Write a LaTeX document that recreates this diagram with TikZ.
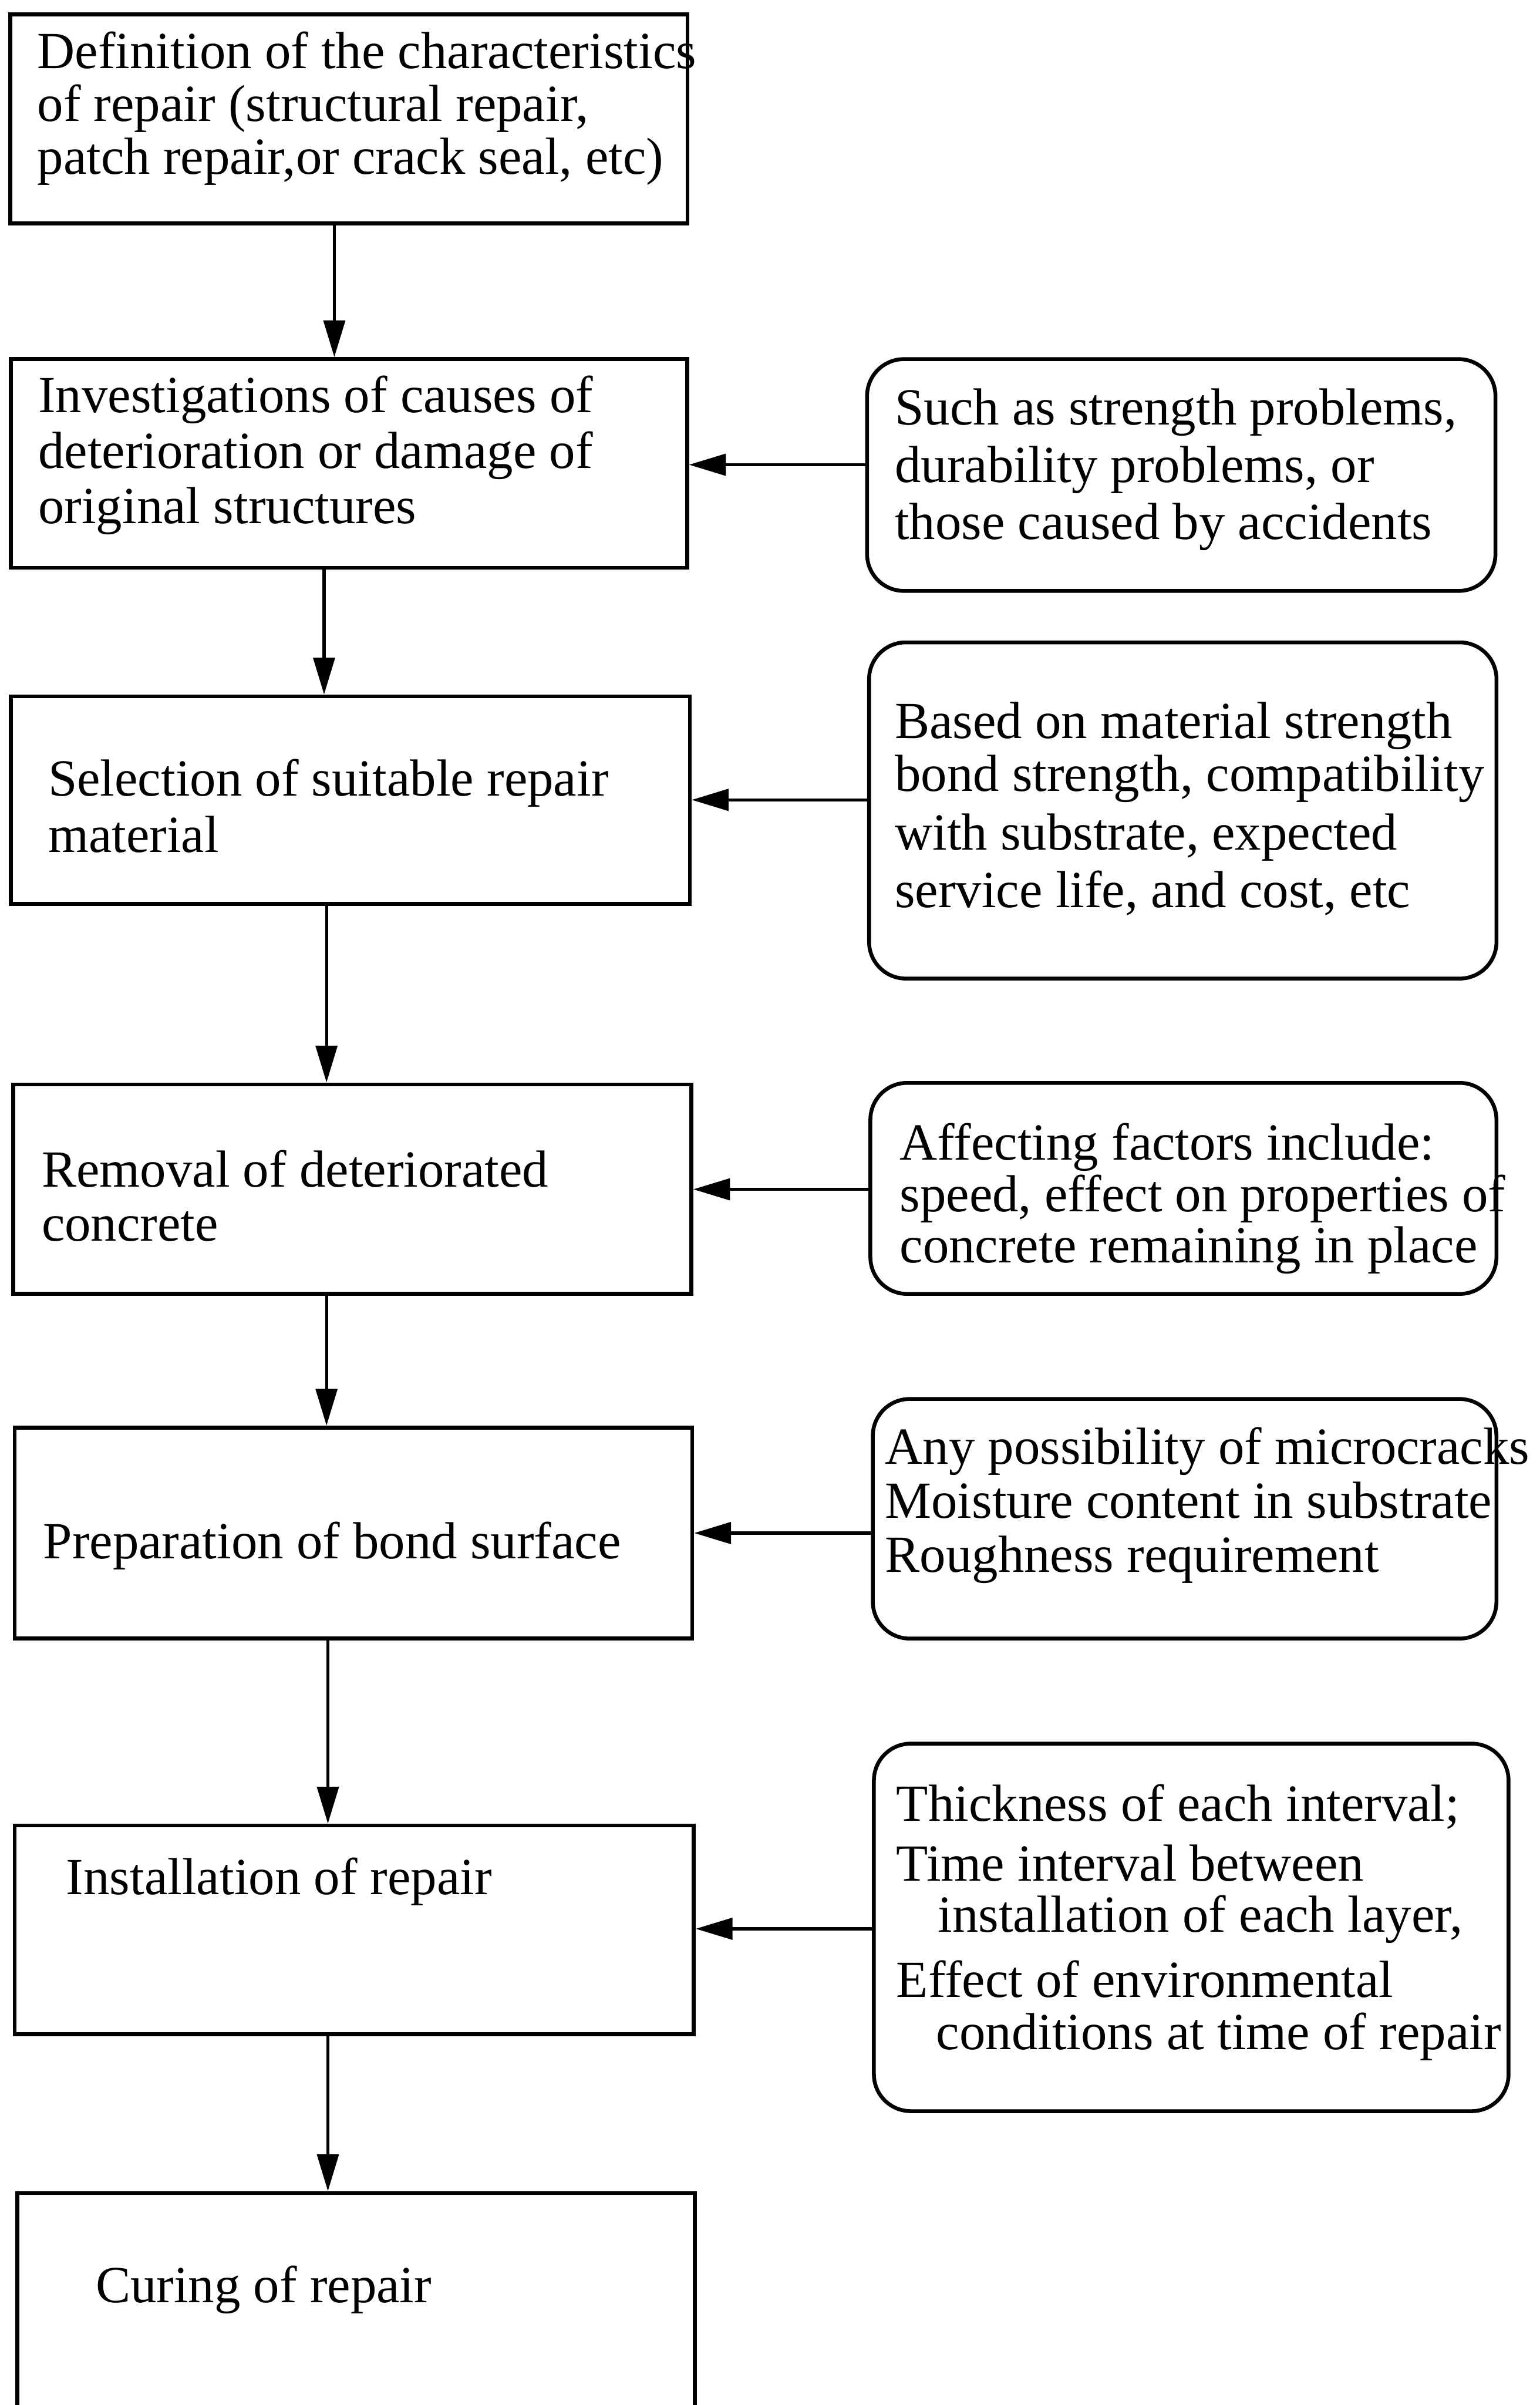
\documentclass[tikz,border=0pt]{standalone}
\usepackage{fontspec}
\setmainfont{Liberation Serif}
\usetikzlibrary{arrows.meta}
\newcommand\mytightlines{\lineskiplimit-100pt\relax\lineskip0pt\relax}
\begin{document}
\begin{tikzpicture}[x=1pt,y=-1pt,
  box/.style={draw, line width=2.5pt, rectangle, inner sep=0pt},
  rbox/.style={draw, line width=2.5pt, rectangle, rounded corners=24pt, inner sep=0pt},
  txt/.style={inner sep=0pt, outer sep=0pt, anchor=base west, align=left,
    font=\fontsize{34}{#1}\selectfont\mytightlines},
  txt/.default=36,
  arr/.style={line width=2pt, -{Triangle[length=24pt,width=14pt]}}]
\path[use as bounding box] (0,0) rectangle (1004,1568);
\fill[white] (0,0) rectangle (1004,1568);
\clip (0,0) rectangle (1004,1568);

% left column boxes
\node[box, minimum width=441.7pt, minimum height=136.4pt] (b1) at (227.5,77.5) {};
\node[box, minimum width=441pt, minimum height=136pt] (b2) at (227.5,302.1) {};
\node[box, minimum width=442.7pt, minimum height=135.4pt] (b3) at (228.4,521.7) {};
\node[box, minimum width=442.1pt, minimum height=136.6pt] (b4) at (229.7,775.3) {};
\node[box, minimum width=441.7pt, minimum height=137.6pt] (b5) at (230.5,999.5) {};
\node[box, minimum width=442.7pt, minimum height=136pt] (b6) at (231,1258.2) {};
\node[box, minimum width=441.8pt, minimum height=200pt] (b7) at (232.1,1529.8) {};

% right rounded boxes
\node[rbox, minimum width=409.7pt, minimum height=151.1pt] (r1) at (770.2,309.7) {};
\node[rbox, minimum width=409.1pt, minimum height=219.2pt] (r2) at (771.2,528.4) {};
\node[rbox, minimum width=408.2pt, minimum height=137.6pt] (r3) at (771.6,774.8) {};
\node[rbox, minimum width=406.6pt, minimum height=156.2pt] (r4) at (772.4,990.2) {};
\node[rbox, minimum width=413.8pt, minimum height=239.6pt] (r5) at (776.7,1256.6) {};

% texts of left boxes (anchored at the baseline of the last line)
\node[txt=34.5] (t1) at (24.4,113.6) {Definition of the characteristics\\of repair (structural repair,\\patch repair,or crack seal, etc)};
\node[txt=36.2] (t2) at (25,341.4) {Investigations of causes of\\deterioration or damage of\\original structures};
\node[txt=36.5] (t3) at (31.4,555.5) {Selection of suitable repair\\material};
\node[txt=35.2] (t4) at (27.2,809) {Removal of deteriorated\\concrete};
\node[txt] (t5) at (28.2,1016.1) {Preparation of bond surface};
\node[txt] (t6) at (43.2,1235) {Installation of repair};
\node[txt] (t7) at (62.4,1501) {Curing of repair};

% texts of right boxes
\node[txt=37.3] (s1) at (583.5,351.6) {Such as strength problems,\\durability problems, or\\those caused by accidents};
\node[txt=30.4] (s2) at (583.5,591.6) {Based on material strength\\[4.2pt]bond strength, compatibility\\[8pt]with substrate, expected\\[7pt]service life, and cost, etc};
\node[txt=33.6] (s3) at (586.7,823.4) {Affecting factors include:\\speed, effect on properties of\\concrete remaining in place};
\node[txt=35.2] (s4) at (577.1,1025.1) {Any possibility of microcracks\\Moisture content in substrate\\Roughness requirement};
\node[txt=33.2] (s5) at (584.5,1336) {Thickness of each interval;\\[5.7pt]Time interval between\\\hspace*{27pt}installation of each layer,\\[9.5pt]Effect of environmental\\[0.6pt]\hspace*{26pt}conditions at time of repair};

% helper coordinates for connector positions
\coordinate (x1) at (218,0);
\coordinate (x2) at (211.3,0);
\coordinate (x3) at (212.9,0);
\coordinate (x4) at (212.9,0);
\coordinate (x5) at (213.8,0);
\coordinate (x6) at (213.8,0);
\coordinate (y1) at (0,303);
\coordinate (y2) at (0,521.5);
\coordinate (y3) at (0,775.4);
\coordinate (y4) at (0,999.5);
\coordinate (y5) at (0,1257.5);

% vertical connectors
\draw[arr] (b1.south -| x1) -- (b2.north -| x1);
\draw[arr] (b2.south -| x2) -- (b3.north -| x2);
\draw[arr] (b3.south -| x3) -- (b4.north -| x3);
\draw[arr] (b4.south -| x4) -- (b5.north -| x4);
\draw[arr] (b5.south -| x5) -- (b6.north -| x5);
\draw[arr] (b6.south -| x6) -- (b7.north -| x6);

% horizontal connectors
\draw[arr] (r1.west |- y1) -- (b2.east |- y1);
\draw[arr] (r2.west |- y2) -- (b3.east |- y2);
\draw[arr] (r3.west |- y3) -- (b4.east |- y3);
\draw[arr] (r4.west |- y4) -- (b5.east |- y4);
\draw[arr] (r5.west |- y5) -- (b6.east |- y5);
\end{tikzpicture}
\end{document}
